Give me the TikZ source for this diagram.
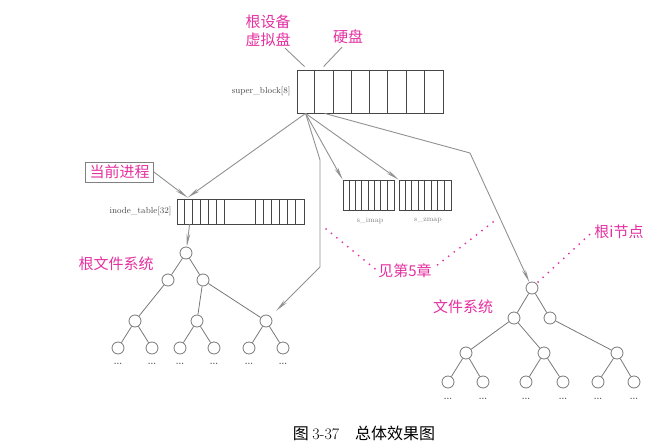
\documentclass[tikz,border=0pt]{standalone}
\usepackage{fontspec}
\newfontfamily\cjk{Noto Sans CJK SC}
\usetikzlibrary{arrows.meta,calc}
\definecolor{pinklab}{RGB}{228,48,160}
\definecolor{linegray}{RGB}{145,145,145}
\definecolor{boxgray}{RGB}{70,70,70}
\definecolor{circgray}{RGB}{120,120,120}
\begin{document}
\begin{tikzpicture}[x=1pt,y=-1pt,
  conn/.style={draw=linegray, line width=0.9pt},
  arr/.style={conn, -{Stealth[length=13pt,width=3.8pt]}},
  tnode/.style={circle, draw=circgray, fill=white, line width=0.8pt, minimum size=12pt, inner sep=0pt},
  tedge/.style={draw=circgray, line width=0.8pt},
  plab/.style={text=pinklab, font=\cjk\fontsize{15}{18}\selectfont, inner sep=0pt},
  pdots/.style={draw=pinklab, line width=2pt, line cap=round, dash pattern=on 0pt off 7pt},
  arrbox/.style={draw=boxgray, line width=0.8pt, inner sep=0pt, rectangle},
  small/.style={text=boxgray, font=\fontsize{8.8}{10}\selectfont, inner sep=0pt},
  tiny/.style={text=gray, font=\fontsize{7.5}{8}\selectfont, inner sep=0pt},
  dotlab/.style={text=boxgray, font=\bfseries\fontsize{8}{8}\selectfont, inner sep=0pt}
]
\useasboundingbox (0,0) rectangle (667,444);

% ---- super_block array ----
\node[arrbox, minimum width=146pt, minimum height=43pt] (sb) at (370,91.5) {};
\foreach \i in {1,...,7}
  \draw[boxgray, line width=0.8pt] ($(sb.north west)+(\i*18.25,0)$) -- ($(sb.south west)+(\i*18.25,0)$);
\node[small, anchor=east] (sblab) at ($(sb.west)+(-6,0)$) {super\_block[8]};
\coordinate (sb1) at ($(sb.south west)+(9,0)$);
\coordinate (sb2) at ($(sb.south west)+(28,0)$);

% labels above
\node[plab, align=center] (rootdev) at (268,31) {根设备\\虚拟盘};
\node[plab] (hd) at (348,37) {硬盘};
\draw[conn] ($(rootdev.south)+(17,1)$) -- ($(sb.north west)+(8,-3)$);
\draw[conn] ($(hd.south)+(-6,3)$) -- ($(sb.north west)+(27,-3)$);

% ---- inode_table array ----
\node[arrbox, minimum width=127pt, minimum height=25pt] (it) at (240.5,211.5) {};
\foreach \o in {8,16,24,32,40,48,79,87,95,103,111,119}
  \draw[boxgray, line width=0.8pt] ($(it.north west)+(\o,0)$) -- ($(it.south west)+(\o,0)$);
\node[small, anchor=east] (itlab) at ($(it.west)+(-5,0)$) {inode\_table[32]};

\node[draw=gray, line width=0.8pt, text=pinklab, font=\cjk\fontsize{15}{18}\selectfont, inner xsep=4pt, inner ysep=3pt] (cur) at (119.5,172) {当前进程};

% ---- s_imap / s_zmap ----
\node[arrbox, minimum width=51pt, minimum height=30pt] (imap) at (368.5,195) {};
\foreach \i in {1,...,7}
  \draw[boxgray, line width=0.8pt] ($(imap.north west)+(\i*6.375,0)$) -- ($(imap.south west)+(\i*6.375,0)$);
\node[arrbox, minimum width=52pt, minimum height=30pt] (zmap) at (425,195) {};
\foreach \i in {1,...,7}
  \draw[boxgray, line width=0.8pt] ($(zmap.north west)+(\i*6.5,0)$) -- ($(zmap.south west)+(\i*6.5,0)$);
\node[tiny] (imaplab) at (370,221) {s\_imap};
\node[tiny] (zmaplab) at (428,221) {s\_zmap};

% ---- left tree ----
\node[tnode] (lr0) at (186,253) {};
\node[tnode] (la1) at (168,280) {};
\node[tnode] (la2) at (203,280) {};
\node[tnode] (lb1) at (135,321) {};
\node[tnode] (lb2) at (197,321) {};
\node[tnode] (lb3) at (266,321) {};
\foreach \n/\x in {1/118,2/152,3/180,4/214,5/249,6/283} {
  \node[tnode] (lc\n) at (\x,348) {};
  \node[dotlab] (ld\n) at (\x,364) {...};
}
\draw[tedge] (lr0) -- (la1) (lr0) -- (la2) (la1) -- (lb1) (la2) -- (lb2) (la2) -- (lb3)
  (lb1) -- (lc1) (lb1) -- (lc2) (lb2) -- (lc3) (lb2) -- (lc4) (lb3) -- (lc5) (lb3) -- (lc6);
\node[plab] (rootfs) at (116,264) {根文件系统};

% ---- right tree ----
\node[tnode] (rr0) at (532,288) {};
\node[tnode] (ra1) at (514,318) {};
\node[tnode] (ra2) at (550,318) {};
\node[tnode] (rb1) at (466,353) {};
\node[tnode] (rb2) at (544,353) {};
\node[tnode] (rb3) at (617,353) {};
\foreach \n/\x in {1/448,2/483,3/526,4/563,5/598,6/634} {
  \node[tnode] (rc\n) at (\x,382) {};
  \node[dotlab] (rd\n) at (\x,399) {...};
}
\draw[tedge] (rr0) -- (ra1) (rr0) -- (ra2) (ra1) -- (rb1) (ra1) -- (rb2) (ra2) -- (rb3)
  (rb1) -- (rc1) (rb1) -- (rc2) (rb2) -- (rc3) (rb2) -- (rc4) (rb3) -- (rc5) (rb3) -- (rc6);
\node[plab] (fs) at (463,307) {文件系统};

% ---- connectors from super_block ----
\coordinate (itin) at ($(it.north west)+(11,-1)$);
\draw[arr] (sb1) -- (itin);
\draw[arr] (cur.east) -- (itin);
\draw[arr] ($(it.south west)+(13,0)$) -- (lr0);
\coordinate (bendA) at (320,160);
\coordinate (bendB) at (320,267);
\draw[arr, shorten >=8pt] (sb1) -- (bendA) -- (bendB) -- (lb3);
\draw[arr] (sb1) -- (imap.north west);
\draw[arr] (sb1) -- (zmap.north west);
\coordinate (bendC) at (470,153);
\draw[arr] (sb2) -- (bendC) -- (rr0);

% ---- magenta dotted notes ----
\node[plab] (ch5) at (405,271) {见第5章};
\coordinate (dA) at (326,229);
\coordinate (dB) at (493,222);
\draw[pdots] (dA) -- ($(ch5.west)+(-3,-2)$);
\draw[pdots] (dB) -- ($(ch5.east)+(3,-4)$);
\node[plab] (rinode) at (619,232) {根i节点};
\draw[pdots] ($(rr0)+(6,-6)$) -- ($(rinode.west)+(-3,1)$);

% ---- caption ----
\node[font=\cjk\fontsize{16}{18}\selectfont, inner sep=0pt] (cap) at (364,433) {图 {\rmfamily 3-37}\quad 总体效果图};
\end{tikzpicture}
\end{document}
